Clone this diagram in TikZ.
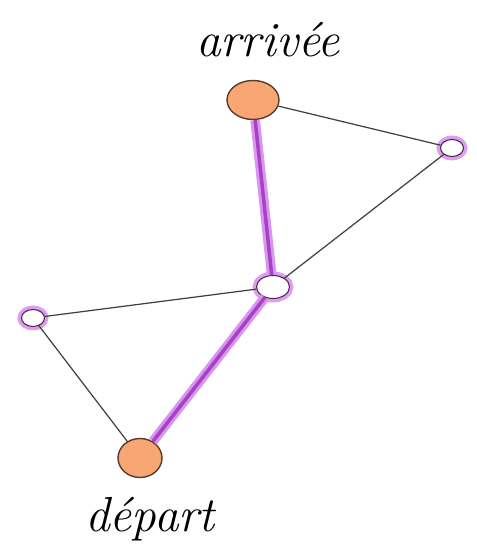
\documentclass[tikz,border=0pt]{standalone}
\usepackage{tikz}
\usetikzlibrary{shapes.geometric}
\definecolor{peach}{HTML}{F7A674}
\definecolor{rim}{HTML}{5A3A2A}
\definecolor{glow}{HTML}{C24FE6}
\tikzset{
  endpoint/.style={ellipse, draw=rim, thick, fill=peach, inner sep=0pt},
  waypoint/.style={ellipse, draw=rim!60!glow!60!black, semithick, fill=white, inner sep=0pt,
    preaction={draw=glow!55, line width=4.5pt}},
  thinedge/.style={draw=black!75, line width=0.7pt},
  pathedge/.style={draw=glow!85!black, line width=2pt, preaction={draw=glow!60, line width=5.5pt}},
  handlabel/.style={font=\fontsize{28}{30}\selectfont\itshape, inner sep=0pt}
}
\begin{document}
\begin{tikzpicture}
  \useasboundingbox (0,0) rectangle (9.54,11.04);
  \node[endpoint, minimum width=1.04cm, minimum height=0.78cm] (arr) at (5.06,9.04) {};
  \node[waypoint, minimum width=0.46cm, minimum height=0.34cm] (rt) at (9.04,8.08) {};
  \node[waypoint, minimum width=0.66cm, minimum height=0.46cm] (mid) at (5.46,5.30) {};
  \node[waypoint, minimum width=0.46cm, minimum height=0.34cm] (lf) at (0.66,4.68) {};
  \node[endpoint, minimum width=0.88cm, minimum height=0.78cm] (dep) at (2.80,1.88) {};
  \node[handlabel] (arrlab) at (5.36,10.24) {arrivée};
  \node[handlabel] (deplab) at (3.00,0.66) {départ};
  % connectors
  \path[thinedge] (arr) -- (rt);
  \path[thinedge] (rt) -- (mid);
  \path[thinedge] (mid) -- (lf);
  \path[thinedge] (lf) -- (dep);
  \path[pathedge] (arr) -- (mid);
  \path[pathedge] (mid) -- (dep);
\end{tikzpicture}
\end{document}
